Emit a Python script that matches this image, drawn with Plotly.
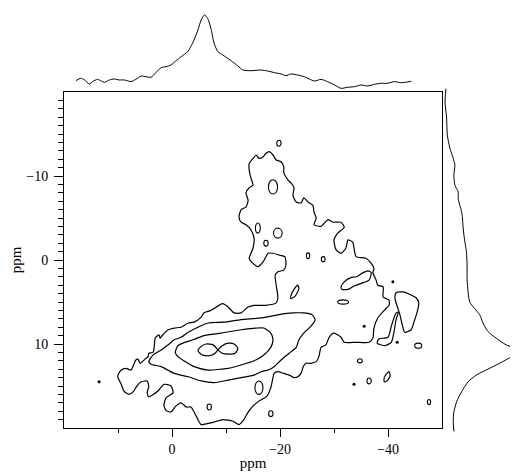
import plotly.graph_objects as go

# ---------------- axis ticks (ppm) ----------------
x_major = [0, -20, -40]
x_major_text = ["0", "\u221220", "\u221240"]
x_minor = [10, -10, -30]
y_major = [-10, 0, 10]
y_major_text = ["\u221210", "0", "10"]
y_minor = [v for v in range(-19, 20) if v not in (-10, 0, 10)]

# ---------------- contour outlines (ppm_x, ppm_y) ----------------
contour_outer = [(10.0,13.7),(9.4,13.1),(8.5,12.9),(7.6,13.1),(6.7,11.9),(6.3,11.8),(5.9,12.3),(5.0,11.8),
    (4.4,11.5),(4.3,11.1),(3.5,11.0),(3.3,10.4),(3.1,9.3),(2.4,8.9),(2.2,9.3),(1.7,8.9),(0.7,8.3),(-0.4,8.1),
    (-1.7,8.0),(-3.0,7.5),(-4.1,7.4),(-5.4,6.8),(-5.9,6.3),(-7.2,6.0),(-8.7,5.4),(-9.4,5.2),(-10.4,5.6),
    (-11.5,6.3),(-12.8,6.3),(-14.1,5.6),(-15.2,5.4),(-16.5,5.4),(-17.4,5.4),(-19.3,5.1),(-19.6,4.5),
    (-19.3,3.0),(-19.1,1.8),(-19.6,1.4),(-20.7,1.2),(-21.1,0.6),(-20.9,-0.4),(-19.8,-0.6),(-18.7,-0.8),
    (-17.8,-0.8),(-16.9,0.2),(-15.9,0.8),(-15.0,0.4),(-14.3,-0.2),(-15.0,-1.4),(-15.2,-2.6),(-14.6,-3.6),
    (-13.7,-4.2),(-12.8,-4.5),(-12.4,-5.1),(-12.8,-6.0),(-13.7,-6.3),(-14.1,-7.1),(-13.7,-8.0),(-14.3,-8.6),
    (-15.0,-8.9),(-14.6,-9.8),(-14.3,-10.7),(-14.3,-11.5),(-15.0,-12.1),(-15.6,-12.5),(-16.1,-12.1),
    (-16.9,-12.3),(-17.4,-12.7),(-18.0,-12.9),(-18.7,-12.5),(-19.3,-11.9),(-20.2,-11.7),(-20.7,-11.1),
    (-20.7,-10.4),(-21.5,-9.5),(-22.0,-9.2),(-22.6,-8.6),(-22.4,-7.7),(-23.0,-6.9),(-23.9,-6.8),(-24.4,-7.4),
    (-25.2,-6.9),(-26.1,-6.5),(-26.3,-5.7),(-26.7,-5.0),(-26.3,-4.2),(-27.6,-4.0),(-28.9,-4.8),(-29.8,-4.5),
    (-31.3,-4.5),(-31.9,-3.9),(-30.7,-3.2),(-30.0,-2.4),(-30.4,-1.2),(-31.3,-0.8),(-32.2,-1.4),(-32.6,-2.4),
    (-33.5,-2.1),(-33.7,-1.4),(-34.1,-0.4),(-35.9,-0.2),(-36.9,0.4),(-37.4,1.0),(-37.2,1.5),(-37.8,2.4),
    (-38.1,3.0),(-39.1,3.2),(-39.1,4.4),(-40.2,4.8),(-40.2,5.4),(-39.3,6.0),(-38.1,6.9),(-37.4,8.1),
    (-37.2,9.3),(-36.5,9.8),(-34.1,9.8),(-31.9,9.8),(-31.3,9.2),(-30.0,8.7),(-29.1,9.2),(-28.5,10.1),
    (-27.6,10.4),(-27.2,11.5),(-26.7,12.1),(-25.7,12.3),(-24.8,12.3),(-24.3,12.7),(-23.9,13.5),(-23.3,13.9),
    (-22.6,14.0),(-21.7,13.7),(-20.7,13.5),(-19.6,13.3),(-18.9,13.5),(-18.7,14.0),(-18.3,15.2),(-17.6,16.2),
    (-16.1,16.8),(-15.0,17.4),(-14.1,18.1),(-13.3,19.0),(-12.4,19.6),(-11.3,19.2),(-9.4,19.0),(-7.8,19.3),
    (-6.3,19.5),(-5.4,19.6),(-4.8,19.0),(-4.1,18.1),(-3.5,17.5),(-2.6,17.5),(-1.7,17.0),(-0.7,17.4),
    (0.2,18.1),(1.1,17.9),(1.5,17.3),(1.1,16.4),(-0.2,15.8),(0.2,15.0),(1.5,14.8),(2.6,15.6),(4.3,16.3),
    (4.6,15.8),(4.3,15.1),(4.6,14.4),(5.7,14.5),(6.5,15.0),(7.2,15.7),(8.0,16.0),(8.9,15.6),(9.4,14.8),
    (10.0,14.0)]

contour_second = [(4.3,12.1),(3.5,11.3),(2.0,10.7),(0.7,10.1),(-0.4,9.5),(-1.7,9.2),(-3.0,8.6),(-4.8,8.0),
    (-6.7,7.5),(-9.6,7.4),(-12.8,7.1),(-16.5,6.9),(-19.8,6.5),(-22.4,6.3),(-24.3,6.3),(-25.9,6.5),
    (-26.5,7.1),(-25.7,7.9),(-24.4,8.7),(-23.5,9.5),(-23.0,10.4),(-21.7,11.1),(-20.2,11.9),(-18.9,12.7),
    (-17.8,13.1),(-16.5,13.3),(-15.2,13.7),(-12.8,14.0),(-10.4,14.3),(-7.8,14.6),(-5.4,14.4),(-3.0,13.9),
    (-0.4,13.5),(2.0,12.7),(3.9,12.4)]

contour_third = [(-0.6,11.0),(-1.1,10.2),(-2.0,9.9),(-3.9,9.5),(-5.9,9.0),(-9.1,8.7),(-12.8,8.3),(-15.6,8.1),
    (-17.0,8.1),(-18.3,8.7),(-18.7,9.5),(-18.3,10.4),(-17.0,11.3),(-15.2,12.0),(-12.8,12.5),(-10.4,12.9),
    (-6.7,13.1),(-4.1,12.7),(-2.2,12.0),(-1.1,11.5)]

contour_core = [(-8.5,10.7),(-7.6,10.1),(-6.3,10.0),(-5.2,10.4),(-4.8,10.8),(-5.6,11.3),(-6.9,11.4),(-8.0,11.1),
    (-8.5,10.7),(-9.3,10.2),(-10.4,9.9),(-11.5,10.0),(-12.2,10.5),(-11.7,11.1),(-10.4,11.2),(-9.3,11.1),
    (-8.5,10.7)]

island_diag = [(-23.3,3.0),(-23.5,3.4),(-22.8,4.3),(-22.0,4.6),(-22.0,4.3),(-22.6,3.5)]
island_tilt = [(-40.2,13.3),(-40.4,13.8),(-39.8,14.4),(-39.3,14.5),(-39.3,14.0),(-39.8,13.5)]
island_streak = [(-31.3,3.2),(-31.9,2.6),(-33.1,2.1),(-34.1,2.0),(-35.4,1.5),(-36.3,1.3),(-36.9,1.5),
    (-36.5,2.4),(-35.4,2.7),(-33.7,3.1),(-32.6,3.5),(-31.5,3.5)]
island_right = [(-41.5,3.9),(-42.8,3.8),(-45.2,4.5),(-45.7,5.1),(-45.4,6.2),(-44.8,7.4),(-44.3,8.3),
    (-43.1,8.6),(-42.6,7.6),(-42.2,6.5),(-41.7,5.5),(-41.3,4.6)]
island_loop = [(-38.0,9.9),(-39.4,10.2),(-40.6,9.8),(-41.1,8.6),(-41.5,7.1),(-41.9,6.2),(-41.5,6.3),
    (-40.7,7.7),(-40.0,9.2),(-38.3,9.4)]

# small oval islands: centre and half-sizes (ppm)
oval_cx = [-6.9, -16.1, -18.3, -19.8, -18.7, -15.9, -19.6, -17.4, -25.2, -28.0, -31.7, -45.6, -34.8, -36.5, -47.6]
oval_cy = [17.5, 15.2, 18.3, -13.9, -8.7, -3.8, -3.2, -2.0, -0.5, -0.1, 5.0, 10.2, 12.0, 14.4, 16.9]
oval_rx = [0.4, 0.75, 0.4, 0.4, 0.85, 0.45, 0.8, 0.4, 0.3, 0.35, 1.0, 0.65, 0.45, 0.4, 0.3]
oval_ry = [0.35, 0.8, 0.35, 0.35, 0.85, 0.6, 0.6, 0.35, 0.35, 0.3, 0.25, 0.3, 0.25, 0.35, 0.3]

# isolated dots
dot_x = [13.5, -40.9, -35.6, -41.7, -33.7]
dot_y = [14.5, 2.6, 7.9, 9.8, 14.8]

# ---------------- projections ----------------
top_ppm = [17.8, 16.9, 16.2, 15.3, 14.7, 13.8, 13.1, 12.5, 11.6, 10.7, 9.8, 8.8, 7.6, 6.7, 5.7, 4.8, 3.9,
           3.0, 2.0, 1.1, 0.2, -0.7, -1.7, -2.9, -3.8, -4.8, -5.4, -6.0, -6.6, -7.2, -7.8, -8.5, -9.4,
           -10.3, -11.2, -12.2, -13.1, -14.6, -16.5, -17.7, -19.0, -20.2, -21.1, -22.0, -23.3, -24.5,
           -25.4, -26.4, -27.6, -28.8, -30.1, -31.3, -32.5, -33.8, -35.0, -36.2, -37.5, -38.7, -39.9,
           -41.2, -42.4, -44.3]
top_int = [12.3, 15.4, 13.2, 7.9, 11.0, 14.0, 11.8, 10.1, 13.2, 14.5, 13.2, 13.2, 11.0, 14.0, 18.4, 17.5,
           16.7, 22.8, 29.4, 30.7, 32.9, 38.2, 43.9, 50.4, 61.4, 78.9, 92.1, 98.7, 94.3, 81.1, 61.4, 50.4,
           46.1, 41.7, 37.3, 31.6, 26.3, 25.4, 26.3, 25.0, 22.8, 21.1, 18.9, 21.1, 19.7, 17.5, 14.5, 11.8,
           14.0, 11.0, 6.6, 2.2, 3.5, 4.4, 6.6, 5.3, 7.5, 8.8, 8.8, 11.0, 9.6, 11.4]

right_ppm = [-20.4, -18.8, -16.9, -14.9, -13.3, -12.1, -11.3, -10.1, -8.9, -8.1, -7.3, -6.5, -5.8, -5.0,
             -3.8, -2.2, -1.0, 0.6, 2.2, 3.8, 5.0, 5.8, 6.5, 7.5, 8.5, 9.3, 10.1, 10.5, 10.9, 11.3, 12.1,
             12.9, 13.7, 14.5, 15.7, 16.9, 18.1, 19.2, 20.4]
right_int = [2.7, 1.4, 3.6, 4.5, 8.1, 12.6, 14.9, 13.5, 14.9, 19.4, 19.4, 21.6, 23.9, 25.2, 26.1, 28.4,
             30.6, 31.5, 31.5, 32.9, 35.1, 41.9, 48.6, 53.2, 59.9, 71.2, 84.7, 95.9, 100.0, 95.9, 80.2,
             62.2, 44.1, 32.9, 23.9, 17.1, 13.5, 12.6, 13.5]

FONT = "Liberation Serif, Times New Roman, serif"
LINE = dict(color="black", width=1.2, shape="spline", smoothing=0.6)

fig = go.Figure()


def add_outline(points):
    xs = [p[0] for p in points] + [points[0][0]]
    ys = [p[1] for p in points] + [points[0][1]]
    fig.add_trace(go.Scatter(x=xs, y=ys, mode="lines", line=LINE, xaxis="x", yaxis="y",
                             hoverinfo="skip", showlegend=False))


for outline in [contour_outer, contour_second, contour_third, contour_core,
                island_diag, island_tilt, island_streak, island_right, island_loop]:
    add_outline(outline)

fig.add_trace(go.Scatter(x=dot_x, y=dot_y, mode="markers", xaxis="x", yaxis="y",
                         marker=dict(symbol="circle", size=3, color="black"),
                         hoverinfo="skip", showlegend=False))

for cx, cy, rx, ry in zip(oval_cx, oval_cy, oval_rx, oval_ry):
    fig.add_shape(type="circle", xref="x", yref="y", x0=cx - rx, x1=cx + rx, y0=cy - ry, y1=cy + ry,
                  line=dict(color="black", width=1.1))

fig.add_trace(go.Scatter(x=top_ppm, y=top_int, mode="lines", xaxis="x", yaxis="y2",
                         line=dict(color="black", width=1, shape="spline", smoothing=0.7),
                         hoverinfo="skip", showlegend=False))
fig.add_trace(go.Scatter(x=right_int, y=right_ppm, mode="lines", xaxis="x2", yaxis="y3",
                         line=dict(color="black", width=1, shape="spline", smoothing=0.7),
                         hoverinfo="skip", showlegend=False))

# page has an 8px body margin, so the figure itself is 510x464
W, H = 510, 464
L, R, T, B = 56, 0, 0, 34
plot_w = W - L - R
plot_h = H - T - B
frame_left, frame_right, frame_top, frame_bottom = 56, 434, 84, 420
main_right = (frame_right - L) / plot_w
main_bottom = (H - B - frame_bottom) / plot_h
main_top = (H - B - frame_top) / plot_h
top_base = 82          # baseline of the top projection (figure px)
top_bottom = (H - B - top_base) / plot_h
top_range = top_base / 0.76
right_left = (436 - L) / plot_w
px_per_ppm = (frame_bottom - frame_top) / 40.0
zero_py = (frame_top + frame_bottom) / 2
r_top = -(zero_py - T) / px_per_ppm
r_bot = (H - B - zero_py) / px_per_ppm

axis_common = dict(showgrid=False, zeroline=False, showline=True, linecolor="black", linewidth=1,
                   mirror=True, ticks="outside", tickcolor="black", tickwidth=1,
                   tickfont=dict(family=FONT, size=14, color="#000000"), automargin=False)

fig.update_layout(
    template="none",
    width=W, height=H,
    margin=dict(l=L, r=R, t=T, b=B),
    paper_bgcolor="white", plot_bgcolor="white",
    font=dict(family=FONT, color="#000000", size=14),
    showlegend=False,
    xaxis=dict(domain=[0, main_right], range=[20, -50], anchor="y",
               tickmode="array", tickvals=x_major, ticktext=x_major_text, ticklen=8,
               minor=dict(tickmode="array", tickvals=x_minor, ticks="outside", ticklen=4,
                          tickcolor="black"),
               title=dict(text="ppm", font=dict(family=FONT, size=15, color="#000000"), standoff=1),
               **axis_common),
    yaxis=dict(domain=[main_bottom, main_top], range=[20, -20], anchor="x",
               tickmode="array", tickvals=y_major, ticktext=y_major_text, ticklen=9,
               ticklabelstandoff=3,
               minor=dict(tickmode="array", tickvals=y_minor, ticks="outside", ticklen=5,
                          tickcolor="black"),
               title=dict(text="ppm", font=dict(family=FONT, size=15, color="#000000"), standoff=7),
               **axis_common),
    yaxis2=dict(domain=[top_bottom, 1], range=[0, top_range], anchor="x", visible=False),
    xaxis2=dict(domain=[right_left, 1], range=[0, 101], anchor="y3", visible=False),
    yaxis3=dict(domain=[0, 1], range=[r_bot, r_top], anchor="x2", visible=False),
)

fig.write_html("out.html")
